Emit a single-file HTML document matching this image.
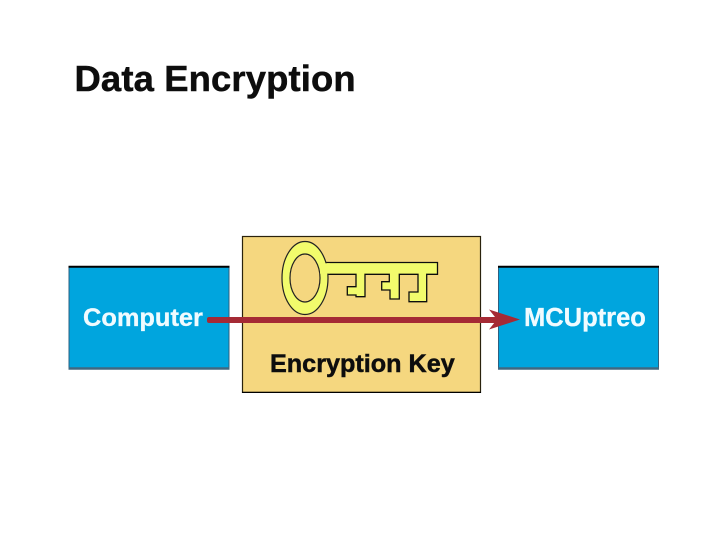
<!DOCTYPE html>
<html><head><meta charset="utf-8"><style>
html,body{margin:0;padding:0;background:#fff}
svg{display:block}
text{font-family:"Liberation Sans",sans-serif;font-weight:bold}
</style></head><body>
<svg width="720" height="540" viewBox="0 0 720 540" xmlns="http://www.w3.org/2000/svg">
<rect width="720" height="540" fill="#fff"/>
<g filter="url(#b)">
<text x="74.500" y="91" font-size="36.400" letter-spacing="0.150" fill="#111" stroke="#111" stroke-width="0.500">Data Encryption</text>
<rect x="69" y="267" width="160" height="101" fill="#05a5de" stroke="#2f5f7f" stroke-width="1"/>
<line x1="68.500" y1="266.800" x2="229.500" y2="266.800" stroke="#000" stroke-width="2"/>
<line x1="68.500" y1="368.500" x2="229.500" y2="368.500" stroke="#3f6880" stroke-width="2.500"/>
<rect x="498.500" y="267" width="160" height="101" fill="#05a5de" stroke="#2f5f7f" stroke-width="1"/>
<line x1="498" y1="266.800" x2="659" y2="266.800" stroke="#000" stroke-width="2"/>
<line x1="498" y1="368.500" x2="659" y2="368.500" stroke="#3f6880" stroke-width="2.500"/>
<rect x="242.500" y="236.500" width="238" height="156" fill="#f5d77f" stroke="#2a2410" stroke-width="1.200"/>
<line x1="242" y1="392.800" x2="481" y2="392.800" stroke="#000" stroke-width="2"/>
<path d="M322 262.500H437.500V274.300H426.700V301.700H409V292H418V274.300H399.300V299H390V290H381.700V281.700H389.300V274.300H365V296.700H356V295H347.300V286.700H356V274.300H326Z" fill="#f2fb6c" stroke="#111" stroke-width="1.300"/>
<ellipse cx="305" cy="278" rx="23" ry="36.500" fill="#f2fb6c" stroke="#222" stroke-width="1.200"/>
<ellipse cx="305" cy="278" rx="15" ry="24" fill="#f5d77f" stroke="#222" stroke-width="1.200"/>
<rect x="320" y="263.300" width="10" height="10.300" fill="#f2fb6c"/>
<text x="270" y="372" font-size="25.200" fill="#111" stroke="#111" stroke-width="0.500">Encryption Key</text>
<text x="83" y="326" font-size="25.400" fill="#f0fbff" stroke="#f0fbff" stroke-width="0.300">Computer</text>
<text x="524" y="326" font-size="25.500" fill="#f0fbff" stroke="#f0fbff" stroke-width="0.300">MCUptreo</text>
<rect x="207" y="317" width="291" height="6" rx="2" fill="#a52c35"/>
<path d="M520 319.500L489 309.500L497 319.500L489 329.500Z" fill="#a52c35"/>
</g>
<defs><filter id="b" x="0" y="0" width="100%" height="100%"><feGaussianBlur stdDeviation="0.300"/></filter></defs>
</svg>
</body></html>
